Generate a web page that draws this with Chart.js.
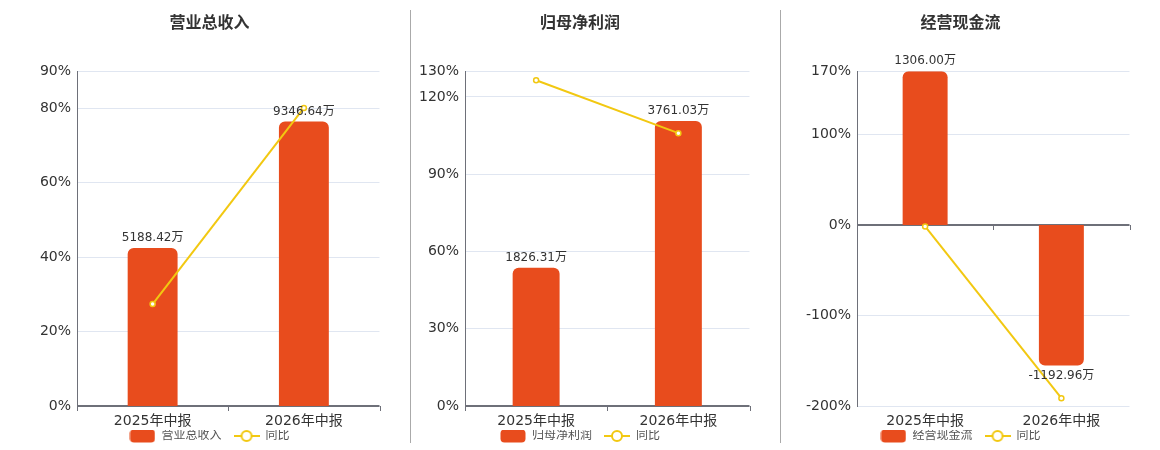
<!DOCTYPE html>
<html lang="zh">
<head>
<meta charset="UTF-8">
<title>财务指标</title>
<script src="https://cdn.jsdelivr.net/npm/chart.js"></script>
<style>
  body { margin: 0; background: #fff; }
  .wrap { position: relative; width: 1160px; height: 450px; overflow: hidden; }
  .panel { position: absolute; top: 0; }
  .sep { position: absolute; top: 10px; width: 1px; height: 433px; background: #aaaaaa; }
</style>
</head>
<body>
<div class="wrap">
  <div class="sep" style="left:410px"></div>
  <div class="sep" style="left:780px"></div>
  <div class="panel" style="left:34px"><canvas id="c1"></canvas></div>
  <div class="panel" style="left:405px"><canvas id="c2"></canvas></div>
  <div class="panel" style="left:786px"><canvas id="c3"></canvas></div>
</div>
<script>
// categories
const periods = ['2025年中报', '2026年中报'];

// 营业总收入 (万) and 同比 (%)
const revenue = [5188.42, 9346.64];
const revenueYoy = [27.4, 80.14];
const revenueTicks = { min: 0, max: 90, step: 20 };
const revenueBarMax = 11000;

// 归母净利润 (万) and 同比 (%)
const netProfit = [1826.31, 3761.03];
const netProfitYoy = [126.5, 105.94];
const netProfitTicks = { min: 0, max: 130, step: 30 };
const netProfitBarMax = 4420;

// 经营现金流 (万) and 同比 (%)
const cashFlow = [1306.00, -1192.96];
const cashFlowYoy = [-1.5, -191.34];
const cashFlowTicks = { min: -200, max: 170, step: 100 };
const cashFlowBarRange = { min: -1536, max: 1306 };

const FONT = "'DejaVu Sans', 'Noto Sans CJK SC', sans-serif";
const BAR_COLOR = '#e84c1d';
const LINE_COLOR = '#f2c811';

function makeIcon(kind) {
  const c = document.createElement('canvas');
  c.width = 26; c.height = 14;
  const g = c.getContext('2d');
  if (kind === 'bar') {
    g.fillStyle = BAR_COLOR;
    g.beginPath();
    g.roundRect(0.5, 0.5, 25, 13, 4);
    g.fill();
  } else {
    g.strokeStyle = LINE_COLOR;
    g.lineWidth = 2;
    g.beginPath();
    g.moveTo(0, 7); g.lineTo(26, 7);
    g.stroke();
    g.fillStyle = '#fff';
    g.beginPath();
    g.arc(13, 7, 5, 0, Math.PI * 2);
    g.fill(); g.stroke();
  }
  return c;
}

// value labels on the bars
const barLabels = {
  id: 'barLabels',
  afterDatasetsDraw(chart) {
    const ctx = chart.ctx;
    const meta = chart.getDatasetMeta(1);
    const data = chart.data.datasets[1].data;
    ctx.save();
    ctx.font = '12px ' + FONT;
    ctx.fillStyle = '#333';
    ctx.textAlign = 'center';
    meta.data.forEach((bar, i) => {
      const v = data[i];
      const txt = v.toFixed(2) + '万';
      if (v >= 0) {
        ctx.textBaseline = 'bottom';
        ctx.fillText(txt, bar.x, bar.y - 4);
      } else {
        ctx.textBaseline = 'top';
        ctx.fillText(txt, bar.x, bar.y + 4);
      }
    });
    ctx.restore();
  }
};

// x axis line sits on the 0% value, with ticks between categories
const zeroAxis = {
  id: 'zeroAxis',
  beforeDatasetsDraw(chart) {
    const ctx = chart.ctx;
    const x = chart.scales.x;
    const y0 = Math.round(chart.scales.y.getPixelForValue(0));
    ctx.save();
    ctx.strokeStyle = '#6e7079';
    ctx.lineWidth = 2;
    ctx.beginPath();
    ctx.moveTo(x.left, y0); ctx.lineTo(x.right, y0);
    ctx.stroke();
    ctx.lineWidth = 1;
    const n = chart.data.labels.length;
    for (let i = 0; i <= n; i++) {
      const px = Math.round(x.left + (x.right - x.left) * i / n) + 0.5;
      ctx.beginPath();
      ctx.moveTo(px, y0); ctx.lineTo(px, y0 + 5);
      ctx.stroke();
    }
    ctx.restore();
  }
};

function build(id, width, axisWidth, title, name, bars, yoy, ticks, barRange) {
  const c = document.getElementById(id);
  c.width = width; c.height = 452;
  new Chart(c, {
    data: {
      labels: periods,
      datasets: [
        {
          type: 'line',
          label: '同比',
          data: yoy,
          yAxisID: 'y',
          borderColor: LINE_COLOR,
          borderWidth: 2,
          pointRadius: 2.5,
          pointBorderWidth: 1.5,
          pointBackgroundColor: '#fff',
          pointBorderColor: LINE_COLOR,
          order: 0
        },
        {
          type: 'bar',
          label: name,
          data: bars,
          yAxisID: 'yBar',
          backgroundColor: BAR_COLOR,
          borderRadius: 6,
          borderSkipped: 'start',
          barPercentage: 0.33,
          categoryPercentage: 1,
          order: 1
        }
      ]
    },
    options: {
      responsive: false,
      animation: false,
      devicePixelRatio: 1,
      layout: { padding: 0 },
      plugins: {
        title: {
          display: true,
          text: title,
          color: '#333',
          font: { family: FONT, size: 16, weight: 'bold' },
          padding: { top: 14, bottom: 38 }
        },
        legend: {
          position: 'bottom',
          reverse: true,
          labels: {
            usePointStyle: true,
            pointStyleWidth: 26,
            boxHeight: 14,
            color: '#555',
            font: { family: FONT, size: 12 },
            padding: 0,
            generateLabels(chart) {
              return chart.data.datasets.map((d, i) => ({
                // em space keeps the gap before the next legend item
                text: d.type === 'bar' ? d.label + '\u2003' : d.label,
                pointStyle: makeIcon(d.type),
                fontColor: '#555',
                lineWidth: 0,
                datasetIndex: i,
                hidden: false
              }));
            }
          }
        },
        tooltip: { enabled: false }
      },
      scales: {
        x: {
          offset: true,
          afterFit: s => { s.height = 24; },
          border: { display: false },
          grid: { display: false, drawTicks: false },
          ticks: { color: '#333', font: { family: FONT, size: 14 }, padding: 7 }
        },
        y: {
          position: 'left',
          min: ticks.min,
          max: ticks.max,
          afterFit: s => { s.width = axisWidth; },
          border: { display: true, color: '#6e7079', width: 1 },
          grid: {
            color: '#e0e6f1',
            drawTicks: false
          },
          ticks: {
            stepSize: ticks.step,
            color: '#333',
            padding: 6,
            font: { family: FONT, size: 14 },
            callback: v => v + '%'
          }
        },
        yBar: {
          display: false,
          min: barRange.min,
          max: barRange.max
        }
      }
    },
    plugins: [zeroAxis, barLabels]
  });
}

build('c1', 351, 43, '营业总收入', '营业总收入', revenue, revenueYoy, revenueTicks, { min: 0, max: revenueBarMax });
build('c2', 350, 60, '归母净利润', '归母净利润', netProfit, netProfitYoy, netProfitTicks, { min: 0, max: netProfitBarMax });
build('c3', 349, 71, '经营现金流', '经营现金流', cashFlow, cashFlowYoy, cashFlowTicks, cashFlowBarRange);
</script>
</body>
</html>
